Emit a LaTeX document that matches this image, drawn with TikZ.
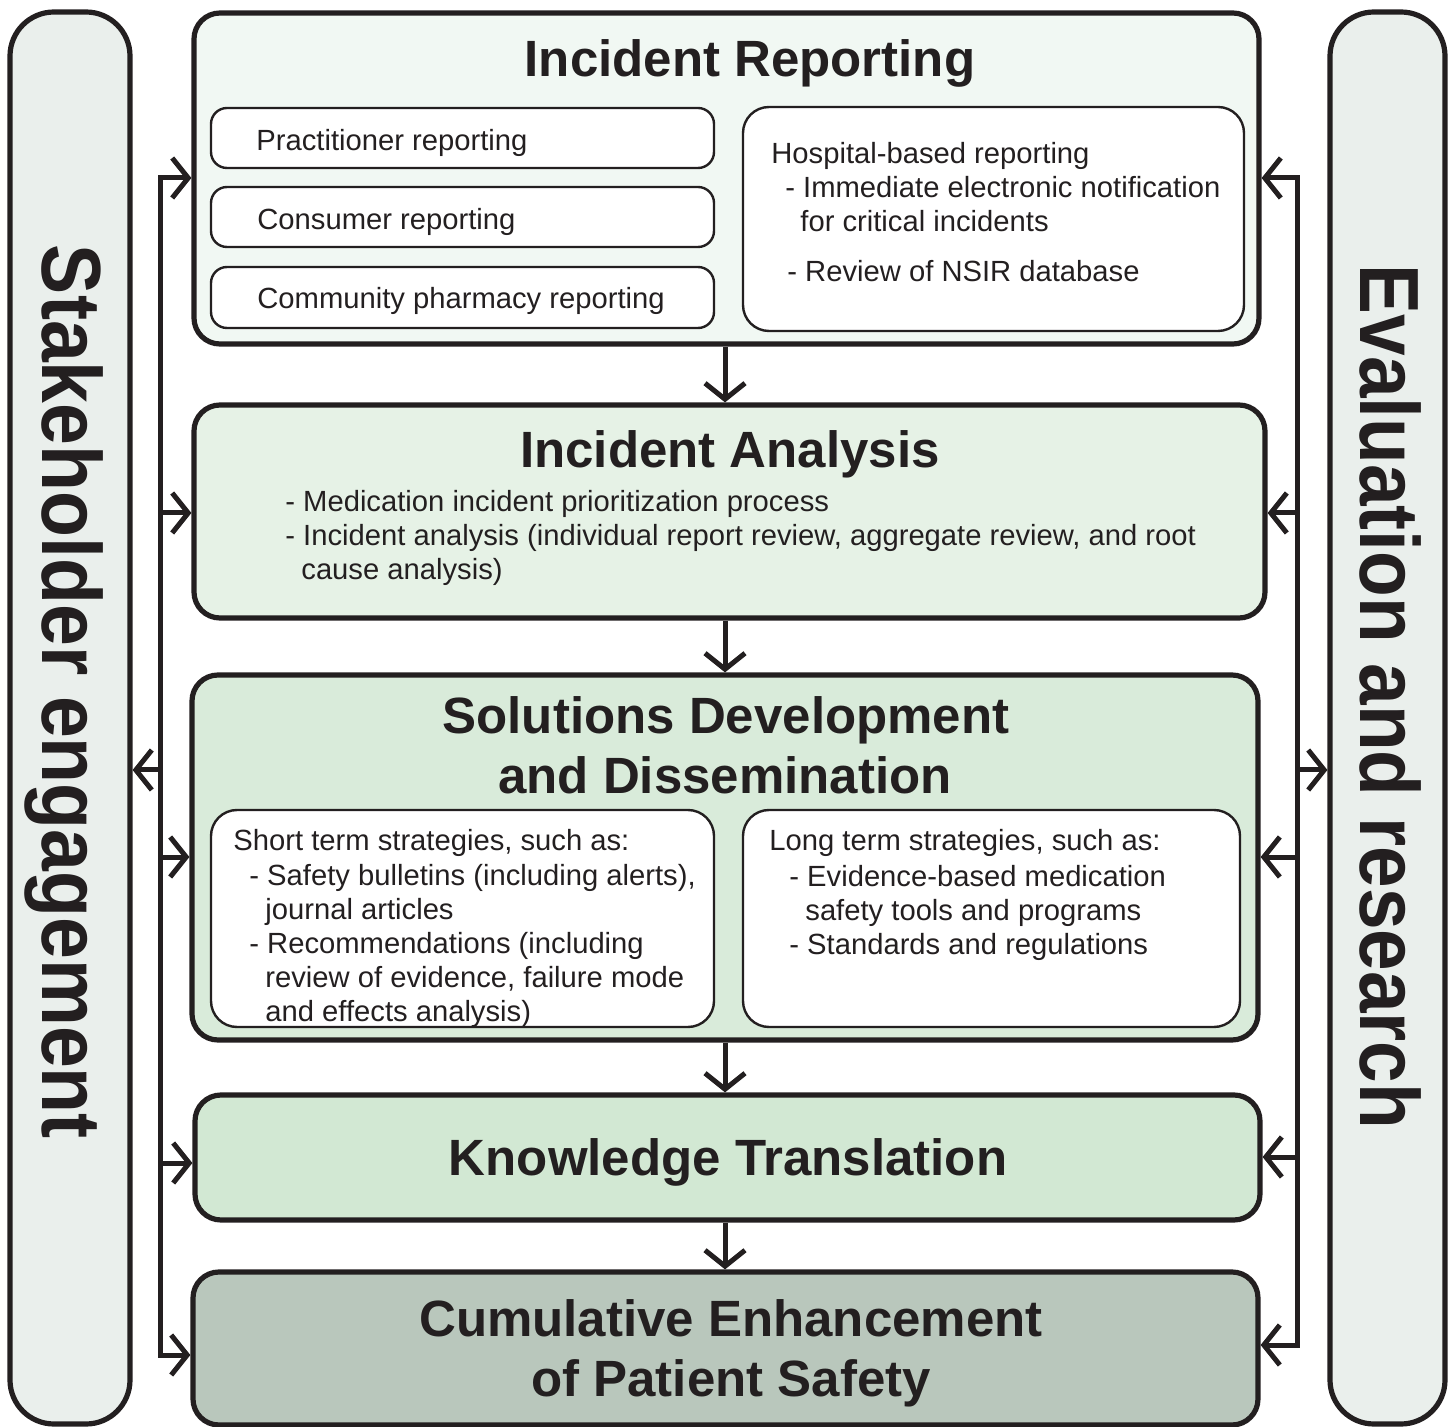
\documentclass[tikz,border=0pt]{standalone}
\usepackage{fontspec}
\setmainfont{Liberation Sans}
\usetikzlibrary{arrows.meta}
\definecolor{ink}{HTML}{231F20}
\definecolor{cSide}{HTML}{EAEFEC}
\definecolor{cIR}{HTML}{F1F8F3}
\definecolor{cIA}{HTML}{E6F2E6}
\definecolor{cSD}{HTML}{D9EBDA}
\definecolor{cKT}{HTML}{D2E8D3}
\definecolor{cCE}{HTML}{B9C7BC}
\tikzset{
  outerbox/.style={draw=ink, line width=2.6pt, rounded corners=13pt, inner sep=0pt},
  sidebox/.style={draw=ink, line width=2.6pt, rounded corners=22pt, fill=cSide, inner sep=0pt},
  innerbox/.style={draw=ink, line width=1.2pt, fill=white, rounded corners=8pt, inner sep=0pt},
  roundbox/.style={draw=ink, line width=1.2pt, fill=white, rounded corners=13pt, inner sep=0pt},
  conn/.style={draw=ink, line width=2.5pt},
  arr/.style={conn, -{Straight Barb[length=8pt,width=20pt]}},
  body/.style={font=\fontsize{14.6}{17}\selectfont, anchor=base west, inner sep=0pt, text=ink},
  ttl/.style={font=\fontsize{25.5}{29.5}\selectfont\bfseries, anchor=base, inner sep=0pt, text=ink},
  sidetxt/.style={font=\fontsize{42}{42}\selectfont\bfseries, anchor=base, inner sep=0pt, text=ink, rotate=-90},
}
\begin{document}
\begin{tikzpicture}[x=0.5pt,y=-0.5pt]
\useasboundingbox (0,0) rectangle (1452,1427);
% side bars
\node[sidebox, minimum width=60pt, minimum height=706pt] (stake) at (70,718) {};
\node[sidebox, minimum width=57.5pt, minimum height=706pt] (eval) at (1387.5,718) {};
\node[sidetxt] (stxt) at (42,692) {\scalebox{0.895}[1]{Stakeholder engagement}};
\node[sidetxt] (etxt) at (1360,697) {\scalebox{0.89}[1]{Evaluation and research}};
% main boxes
\node[outerbox, fill=cIR, minimum width=532.5pt, minimum height=165.5pt] (IR) at (726.5,178.5) {};
\node[outerbox, fill=cIA, minimum width=535.5pt, minimum height=106.5pt] (IA) at (729.5,511.5) {};
\node[outerbox, fill=cSD, minimum width=533pt, minimum height=182.5pt] (SD) at (725,857.5) {};
\node[outerbox, fill=cKT, minimum width=532.5pt, minimum height=62.5pt] (KT) at (727.5,1157.5) {};
\node[outerbox, fill=cCE, minimum width=532.5pt, minimum height=76.5pt] (CE) at (725.5,1348.5) {};
% inner boxes
\node[innerbox, minimum width=251.5pt, minimum height=30pt] (prac) at (462.5,138) {};
\node[innerbox, minimum width=251.5pt, minimum height=30pt] (cons) at (462.5,217) {};
\node[innerbox, minimum width=251.5pt, minimum height=30.5pt] (comm) at (462.5,297.5) {};
\node[roundbox, minimum width=250.5pt, minimum height=112pt] (hosp) at (993.5,219) {};
\node[roundbox, minimum width=251.5pt, minimum height=108.5pt] (short) at (462.5,918.5) {};
\node[roundbox, minimum width=248.5pt, minimum height=108.5pt] (long) at (991.5,918.5) {};
% titles
\node[ttl] (tIR) at (750,77) {Incident Reporting};
\node[ttl] (tIA) at (730,468) {Incident Analysis};
\node[ttl] (tSD1) at (726,734) {Solutions Development};
\node[ttl] (tSD2) at (725,793) {and Dissemination};
\node[ttl] (tKT) at (728,1175) {Knowledge Translation};
\node[ttl] (tCE1) at (731,1336) {Cumulative Enhancement};
\node[ttl] (tCE2) at (731,1396) {of Patient Safety};
% body texts
\node[body] (b1) at (256,151) {Practitioner reporting};
\node[body] (b2) at (257,230) {Consumer reporting};
\node[body] (b3) at (257,309) {Community pharmacy reporting};
\node[body] (h1) at (771,164) {Hospital-based reporting};
\node[body] (h2) at (785,198) {- Immediate electronic notification};
\node[body] (h3) at (800,232) {for critical incidents};
\node[body] (h4) at (787,282) {- Review of NSIR database};
\node[body] (a1) at (285,512) {- Medication incident prioritization process};
\node[body] (a2) at (285,546) {- Incident analysis (individual report review, aggregate review, and root};
\node[body] (a3) at (301,580) {cause analysis)};
\node[body] (s1) at (233,850) {Short term strategies, such as:};
\node[body] (s2) at (249,885) {- Safety bulletins (including alerts),};
\node[body] (s3) at (265,919) {journal articles};
\node[body] (s4) at (249,953) {- Recommendations (including};
\node[body] (s5) at (265,987) {review of evidence, failure mode};
\node[body] (s6) at (265,1021) {and effects analysis)};
\node[body] (l1) at (769,850) {Long term strategies, such as:};
\node[body] (l2) at (789,886) {- Evidence-based medication};
\node[body] (l3) at (805,920) {safety tools and programs};
\node[body] (l4) at (789,954) {- Standards and regulations};
% vertical flow arrows
\draw[arr] (725,0 |- IR.south) -- (725,0 |- IA.north);
\draw[arr] (725,0 |- IA.south) -- (725,0 |- SD.north);
\draw[arr] (725,0 |- SD.south) -- (725,0 |- KT.north);
\draw[arr] (725,0 |- KT.south) -- (725,0 |- CE.north);
% left spine
\coordinate (L1) at (160,178);
\coordinate (L2) at (160,513);
\coordinate (L3) at (160,857);
\coordinate (L4) at (160,1163);
\coordinate (L5) at (160,1355);
\coordinate (LM) at (160,770);
\draw[arr] (L5) -- (L1) -- (L1 -| IR.west);
\draw[arr] (L1) -- (L5) -- (L5 -| CE.west);
\draw[arr] (L2) -- (L2 -| IA.west);
\draw[arr] (L3) -- (L3 -| SD.west);
\draw[arr] (L4) -- (L4 -| KT.west);
\draw[arr] (LM) -- (LM -| stake.east);
% right spine
\coordinate (R1) at (1297,178);
\coordinate (R2) at (1297,513);
\coordinate (R3) at (1297,857);
\coordinate (R4) at (1297,1157);
\coordinate (R5) at (1297,1345);
\coordinate (RM) at (1297,770);
\draw[arr] (R5) -- (R1) -- (R1 -| IR.east);
\draw[arr] (R1) -- (R5) -- (R5 -| CE.east);
\draw[arr] (R2) -- (R2 -| IA.east);
\draw[arr] (R3) -- (R3 -| SD.east);
\draw[arr] (R4) -- (R4 -| KT.east);
\draw[arr] (RM) -- (RM -| eval.west);
\end{tikzpicture}
\end{document}
